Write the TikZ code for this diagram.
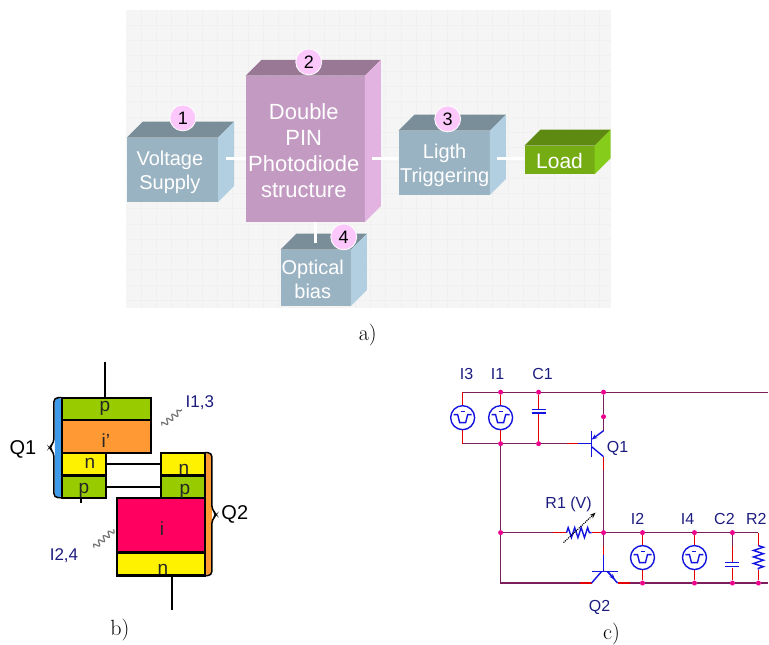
\documentclass[tikz,border=0pt]{standalone}
\usepackage{fontspec}
\setsansfont{Liberation Sans}
\usetikzlibrary{arrows.meta}
\usetikzlibrary{decorations.pathmorphing}
\definecolor{wireCol}{HTML}{7A1F5C}
\definecolor{partCol}{HTML}{1414E0}
\definecolor{textCol}{HTML}{1C1C80}
\definecolor{badgeCol}{HTML}{FCC8FC}
\newcommand{\fs}[1]{\fontsize{#1}{#1}\selectfont}

\begin{document}
\begin{tikzpicture}[x = 1pt, y = -1pt, font=\sffamily]
	\tikzstyle{blockStyle}=[shape = rectangle, inner sep = 0pt, text = white, align = center]
	\tikzstyle{badgeStyle}=[shape = circle, minimum size = 26pt, inner sep = 0pt, fill = badgeCol, draw = white, line width = 0.8pt, text = black, font = \sffamily\fs{18}]
	\tikzstyle{linkStyle}=[draw = white, line width = 3pt]
	\tikzstyle{captionStyle}=[inner sep = 0pt, font = \rmfamily\fs{22}]
	\tikzstyle{layerStyle}=[shape = rectangle, inner sep = 0pt, draw = black, line width = 2.2pt]
	\tikzstyle{layerText}=[inner sep = 0pt, text = black!85, font = \sffamily\fs{19}]
	\tikzstyle{leadStyle}=[draw = black, line width = 2pt]
	\tikzstyle{lightStyle}=[draw = black!55, line width = 1.2pt, decorate, decoration = {snake, amplitude = 2.6pt, segment length = 6.5pt}]
	\tikzstyle{braceStyle}=[draw = black, line width = 1.5pt, rounded corners = 4pt]
	\tikzstyle{wireStyle}=[draw = wireCol, line width = 1.2pt]
	\tikzstyle{stubStyle}=[draw = red!90!black, line width = 1.2pt]
	\tikzstyle{partStyle}=[draw = partCol, line width = 1.4pt]
	\tikzstyle{dotStyle}=[shape = circle, minimum size = 5pt, inner sep = 0pt, fill = magenta]
	\tikzstyle{partText}=[inner sep = 0pt, text = textCol, font = \sffamily\fs{16}]
	\tikzstyle{sourceStyle}=[shape = circle, minimum size = 24pt, inner sep = 0pt, partStyle, fill = white, path picture = {
		\draw[partStyle] (path picture bounding box.center) ++(-9,-3) -- ++(4,0) -- ++(2,8) -- ++(6,0) -- ++(2,-8) -- ++(4,0);
		\draw[partStyle] (path picture bounding box.center) ++(-2,-6) -- ++(4,0);}]

	% a) block diagram
	\fill[black!4] (126,10) rectangle (611,308);
	\foreach \gx in {141,156.3,...,611} {\draw[black!6, line width = 0.3pt] (\gx,10) -- (\gx,308);}
	\foreach \gy in {25,40.3,...,308} {\draw[black!6, line width = 0.3pt] (126,\gy) -- (611,\gy);}

	\node[blockStyle, minimum width = 91pt, minimum height = 64pt, fill = {rgb,255:red,154;green,179;blue,194}] (vSupply) at (172.5,170) {};
	\node[blockStyle, minimum width = 119pt, minimum height = 146pt, fill = {rgb,255:red,195;green,154;blue,194}] (vPin) at (305.5,149) {};
	\node[blockStyle, minimum width = 91pt, minimum height = 64pt, fill = {rgb,255:red,154;green,179;blue,194}] (vLight) at (444.5,163) {};
	\node[blockStyle, minimum width = 70pt, minimum height = 28pt, fill = {rgb,255:red,117;green,171;blue,19}] (vLoad) at (560,160) {};
	\node[blockStyle, minimum width = 70pt, minimum height = 56pt, fill = {rgb,255:red,154;green,179;blue,194}] (vBias) at (316,278) {};

	\foreach \v/\rTop/\gTop/\bTop/\rSide/\gSide/\bSide in {vSupply/122/142/154/177/207/224, vPin/153/120/150/226/178/224, vLight/122/142/154/177/207/224, vLoad/95/138/18/134/204/26, vBias/122/142/154/177/207/224} {
		\definecolor{topCol}{RGB}{\rTop,\gTop,\bTop}
		\definecolor{sideCol}{RGB}{\rSide,\gSide,\bSide}
		\fill[topCol] (\v.north west) -- ++(16,-16) -- ([shift = {(16,-16)}]\v.north east) -- (\v.north east) -- cycle;
		\fill[sideCol] (\v.north east) -- ++(16,-16) -- ([shift = {(16,-16)}]\v.south east) -- (\v.south east) -- cycle;
	}

	\node[blockStyle, font = \sffamily\fs{20}] (tSupply) at (170,172) {Voltage\\[4pt]Supply};
	\node[blockStyle, font = \sffamily\fs{22}] (tPin) at (304,151) {Double\\[4pt]PIN\\[4pt]Photodiode\\[4pt]structure};
	\node[blockStyle, font = \sffamily\fs{20}] (tLight) at (445,165) {Ligth\\[4pt]Triggering};
	\node[blockStyle, font = \sffamily\fs{21}] (tLoad) at (560,161) {Load};
	\node[blockStyle, font = \sffamily\fs{20}] (tBias) at (313,280) {Optical\\[4pt]bias};

	\coordinate (c1) at (226,159);
	\coordinate (c2) at (372,159);
	\coordinate (c3) at (497,159);
	\coordinate (c4) at (316,243);
	\draw[linkStyle] (c1) -- (c1 -| vPin.west);
	\draw[linkStyle] (c2) -- (c2 -| vLight.west);
	\draw[linkStyle] (c3) -- (c3 -| vLoad.west);
	\draw[linkStyle] (vPin.south -| c4) -- (c4);

	\node[badgeStyle] (b1) at (183,118) {1};
	\node[badgeStyle] (b2) at (309,62) {2};
	\node[badgeStyle] (b3) at (448,119) {3};
	\node[badgeStyle] (b4) at (344,237) {4};
	\node[captionStyle] (capA) at (368,335) {a)};

	% b) layers
	\coordinate (q1a) at (62,398);
	\coordinate (q1b) at (62,498);
	\coordinate (q2a) at (205,453);
	\coordinate (q2b) at (205,576);
	\fill[fill = {rgb,255:red,61;green,155;blue,233}, rounded corners = 4pt] (q1a) -- (55,398) -- (55,498) -- (q1b) -- cycle;
	\fill[fill = {rgb,255:red,255;green,153;blue,51}, rounded corners = 4pt] (q2a) -- (212,453) -- (212,576) -- (q2b) -- cycle;
	\draw[braceStyle] (q1a) -- (54,398) -- (54,443) -- (49,448) -- (54,453) -- (54,498) -- (q1b);
	\draw[braceStyle] (q2a) -- (212,453) -- (212,510) -- (217,515) -- (212,520) -- (212,576) -- (q2b);

	\node[layerStyle, fill = {rgb,255:red,153;green,204;blue,0}, minimum width = 89pt, minimum height = 22pt] (q1p) at (106.5,409) {};
	\node[layerStyle, fill = {rgb,255:red,255;green,153;blue,51}, minimum width = 89pt, minimum height = 33pt] (q1i) at (106.5,436.5) {};
	\node[layerStyle, fill = yellow, minimum width = 44pt, minimum height = 22.5pt] (q1n) at (84,464.5) {};
	\node[layerStyle, fill = {rgb,255:red,153;green,204;blue,0}, minimum width = 44pt, minimum height = 22pt] (q1m) at (84,487) {};
	\node[layerStyle, fill = yellow, minimum width = 44pt, minimum height = 22.5pt] (q2n) at (183,464.5) {};
	\node[layerStyle, fill = {rgb,255:red,153;green,204;blue,0}, minimum width = 44pt, minimum height = 22pt] (q2p) at (183,487) {};
	\node[layerStyle, fill = {rgb,255:red,255;green,0;blue,96}, minimum width = 88pt, minimum height = 55pt] (q2i) at (161,525.5) {};
	\node[layerStyle, fill = yellow, minimum width = 88pt, minimum height = 23pt] (q2m) at (161,564.5) {};

	\coordinate (t1) at (105,362);
	\coordinate (t2) at (172,610);
	\coordinate (t3) at (81,503);
	\draw[leadStyle] (t1) -- (t1 |- q1p.north);
	\draw[leadStyle] (t2) -- (t2 |- q2m.south);
	\draw[leadStyle] (t3) -- (t3 |- q1m.south);
	\draw[leadStyle] (q1n.east) -- (q2n.west);
	\draw[leadStyle] (q1m.east) -- (q2p.west);

	\node[layerText] (l1) at (105,409) {p};
	\node[layerText] (l2) at (106,441) {i’};
	\node[layerText] (l3) at (90,464) {n};
	\node[layerText] (l4) at (84,491) {p};
	\node[layerText] (l5) at (184,470) {n};
	\node[layerText] (l6) at (185,492) {p};
	\node[layerText] (l7) at (162,529) {i};
	\node[layerText] (l8) at (163,570) {n};
	\node[inner sep = 0pt, font = \sffamily\fs{20}] (lq1) at (23,450) {Q1};
	\node[inner sep = 0pt, font = \sffamily\fs{20}] (lq2) at (235,515) {Q2};
	\node[inner sep = 0pt, text = textCol, font = \sffamily\fs{17}] (li13) at (200,403) {I1,3};
	\node[inner sep = 0pt, text = textCol, font = \sffamily\fs{17}] (li24) at (64,556) {I2,4};
	\coordinate (w1a) at (162,426);
	\coordinate (w1b) at (182,410);
	\coordinate (w2a) at (94,548);
	\coordinate (w2b) at (114,530);
	\draw[lightStyle] (w1a) -- (w1b);
	\draw[lightStyle] (w2a) -- (w2b);
	\node[captionStyle] (capB) at (120,630) {b)};

	% c) circuit
	\node[sourceStyle] (s3) at (463,418) {};
	\node[sourceStyle] (s1) at (501,418) {};
	\node[sourceStyle] (s2) at (643,558) {};
	\node[sourceStyle] (s4) at (695,558) {};
	\node[dotStyle] (n1) at (501,392.5) {};
	\node[dotStyle] (n2) at (539,392.5) {};
	\node[dotStyle] (n3) at (604,392.5) {};
	\node[dotStyle] (n4) at (604,417) {};
	\node[dotStyle] (n5) at (501,444) {};
	\node[dotStyle] (n6) at (539,444) {};
	\node[dotStyle] (n7) at (501,533) {};
	\node[dotStyle] (n8) at (604,533) {};
	\node[dotStyle] (n9) at (643,533) {};
	\node[dotStyle] (n10) at (695,533) {};
	\node[dotStyle] (n11) at (733,533) {};
	\node[dotStyle] (n12) at (643,583.5) {};
	\node[dotStyle] (n13) at (695,583.5) {};
	\node[dotStyle] (n14) at (733,583.5) {};
	\node[dotStyle] (n15) at (759,583.5) {};
	\coordinate (k1) at (463,392.5);
	\coordinate (k2) at (463,444);
	\coordinate (k3) at (769,392.5);
	\coordinate (k4) at (759,533);
	\coordinate (k5) at (501,583.5);
	\coordinate (k6) at (769,583.5);
	\coordinate (e1) at (604,431);
	\coordinate (e2) at (604,457);
	\coordinate (e3) at (592,440);
	\coordinate (e4) at (592,447);
	\coordinate (b5) at (592,444);
	\coordinate (b6) at (578,444);
	\coordinate (b7) at (567,444);
	\coordinate (g1) at (592,583.5);
	\coordinate (g2) at (618,583.5);
	\coordinate (g3) at (602,572);
	\coordinate (g4) at (608,572);
	\coordinate (g5) at (604,572);
	\coordinate (g6) at (604,555);
	\coordinate (g7) at (604,546);
	\coordinate (g8) at (580,583.5);
	\coordinate (g9) at (630,583.5);
	\coordinate (r1) at (567,533);
	\coordinate (r2) at (592,533);
	\coordinate (r3) at (553,533);
	\coordinate (a1) at (564,543);
	\coordinate (a2) at (596,513);

	\draw[wireStyle] (k2) -- (n5) -- (n6) -- (b7);
	\draw[wireStyle] (k1) -- (n1) -- (n2) -- (n3) -- (k3);
	\draw[wireStyle] (n3) -- (n4) -- (e1);
	\draw[wireStyle] (n5) -- (n7) -- (k5) -- (g8);
	\draw[wireStyle] (e2) -- (n8);
	\draw[wireStyle] (n7) -- (r3);
	\draw[wireStyle] (n8) -- (n9) -- (n10) -- (n11) -- (k4);
	\draw[wireStyle] (g9) -- (n12) -- (n13) -- (n14) -- (n15) -- (k6);
	\draw[wireStyle] (n8) -- (g7);
	\draw[stubStyle] (k1) -- (s3.north);
	\draw[stubStyle] (k2) -- (s3.south);
	\draw[stubStyle] (n1) -- (s1.north);
	\draw[stubStyle] (n5) -- (s1.south);
	\draw[stubStyle] (b7) -- (b6);
	\draw[stubStyle] (g8) -- (g1);
	\draw[stubStyle] (g2) -- (g9);
	\draw[stubStyle] (g7) -- (g6);
	\draw[stubStyle] (r3) -- (r1);
	\draw[stubStyle] (r2) -- (n8);
	\draw[stubStyle] (e2) -- (604,470);
	\draw[stubStyle] (n9) -- (s2.north);
	\draw[stubStyle] (n12) -- (s2.south);
	\draw[stubStyle] (n10) -- (s4.north);
	\draw[stubStyle] (n13) -- (s4.south);

	% transistors
	\draw[partStyle] (b6) -- (b5);
	\draw[partStyle, line width = 1.6pt] (592,431) -- (592,457);
	\draw[partStyle, -{Stealth[length = 6pt]}] (e1) -- (e3);
	\draw[partStyle] (e4) -- (e2);
	\draw[partStyle] (g6) -- (g5);
	\draw[partStyle, line width = 1.6pt] (592,572) -- (618,572);
	\draw[partStyle] (g3) -- (g1);
	\draw[partStyle] (g4) -- (g2);
	\draw[partStyle, -{Stealth[length = 6pt]}] (g4) -- (615.5,580);

	% capacitors and resistors
	\draw[stubStyle] (n2) -- (539,410);
	\draw[stubStyle] (n6) -- (539,413);
	\draw[partStyle] (532,410) -- (546,410);
	\draw[partStyle] (532,413.5) -- (546,413.5);
	\draw[wireStyle] (n11) -- (733,546);
	\draw[stubStyle] (733,546) -- (733,563);
	\draw[stubStyle] (n14) -- (733,568);
	\draw[partStyle] (726,563) -- (740,563);
	\draw[partStyle] (726,567) -- (740,567);
	\draw[stubStyle] (k4) -- (759,546);
	\draw[stubStyle] (n15) -- (759,570);
	\draw[partStyle, decorate, decoration = {zigzag, amplitude = 5pt, segment length = 6.5pt}] (759,546) -- (759,570);
	\draw[partStyle, decorate, decoration = {zigzag, amplitude = 5pt, segment length = 6.5pt}] (r1) -- (r2);
	\draw[draw = black, line width = 1.1pt, densely dotted, -{Stealth[length = 6pt]}] (a1) -- (a2);

	\node[partText] (t3a) at (467,374) {I3};
	\node[partText] (t1a) at (498,374) {I1};
	\node[partText] (c1a) at (543,374) {C1};
	\node[partText] (q1a2) at (618,449) {Q1};
	\node[partText] (r1a) at (569,505) {R1 (V)};
	\node[partText] (t2a) at (638,519) {I2};
	\node[partText] (t4a) at (688,519) {I4};
	\node[partText] (c2a) at (725,519) {C2};
	\node[partText] (r2a) at (757,519) {R2};
	\node[partText] (q2a2) at (600,608) {Q2};
	\node[captionStyle] (capC) at (612,634) {c)};

	\useasboundingbox (0,0) rectangle (769,643);
\end{tikzpicture}
\end{document}
